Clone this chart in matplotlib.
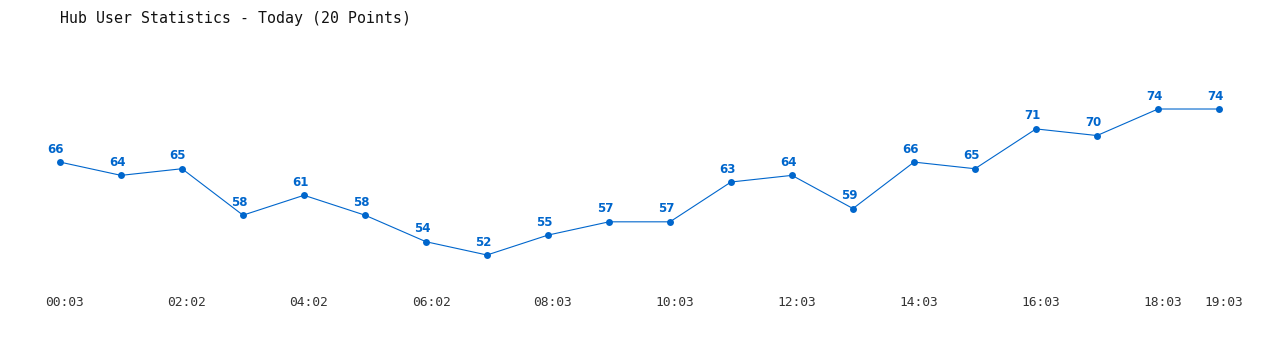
import matplotlib
matplotlib.use("Agg")
import matplotlib.pyplot as plt
import matplotlib.transforms as mtransforms

title = "Hub User Statistics - Today (20 Points)"
values = [66, 64, 65, 58, 61, 58, 54, 52, 55, 57, 57, 63, 64, 59, 66, 65, 71, 70, 74, 74]
tick_positions = [0, 2, 4, 6, 8, 10, 12, 14, 16, 18, 19]
tick_labels = ["00:03", "02:02", "04:02", "06:02", "08:03", "10:03", "12:03",
               "14:03", "16:03", "18:03", "19:03"]

color = "#0066cc"
W, H = 1280, 350
fig = plt.figure(figsize=(W / 100, H / 100), dpi=100)
ax = fig.add_axes([0, 0, 1, 1])
ax.set_axis_off()

xs = list(range(len(values)))
ax.plot(xs, values, color=color, linewidth=0.8, marker="o", markersize=5,
        markeredgewidth=0, zorder=3)

# scale: 61 px per point, x=0 at pixel 60
px = 61.0
ax.set_xlim(-60 / px, (W - 60) / px - 0.0)
# y: value 52 at pixel 255 from top, 6.636 px per unit
py = 6.636
ax.set_ylim(52 - (H - 255) / py, 52 + 255 / py)

off = mtransforms.offset_copy
for x, v in zip(xs, values):
    ax.text(x, v, str(v), transform=off(ax.transData, fig=fig, x=-4 * 0.72, y=13 * 0.72, units="points"),
            ha="center", va="center", fontsize=8.5, fontweight="bold", color=color,
            family="DejaVu Sans")

blend = mtransforms.blended_transform_factory(ax.transData, fig.transFigure)
for p, lab in zip(tick_positions, tick_labels):
    ax.text(p, 1 - 303 / H, lab, transform=off(blend, fig=fig, x=5 * 0.72, y=0, units="points"),
            ha="center", va="center", fontsize=9.3, color="#333333",
            family="DejaVu Sans Mono")

fig.text(60 / W, 1 - 18 / H, title, ha="left", va="center", fontsize=10.7,
         color="#111111", family="DejaVu Sans Mono")

fig.savefig("out.png", dpi=100, facecolor="white")
